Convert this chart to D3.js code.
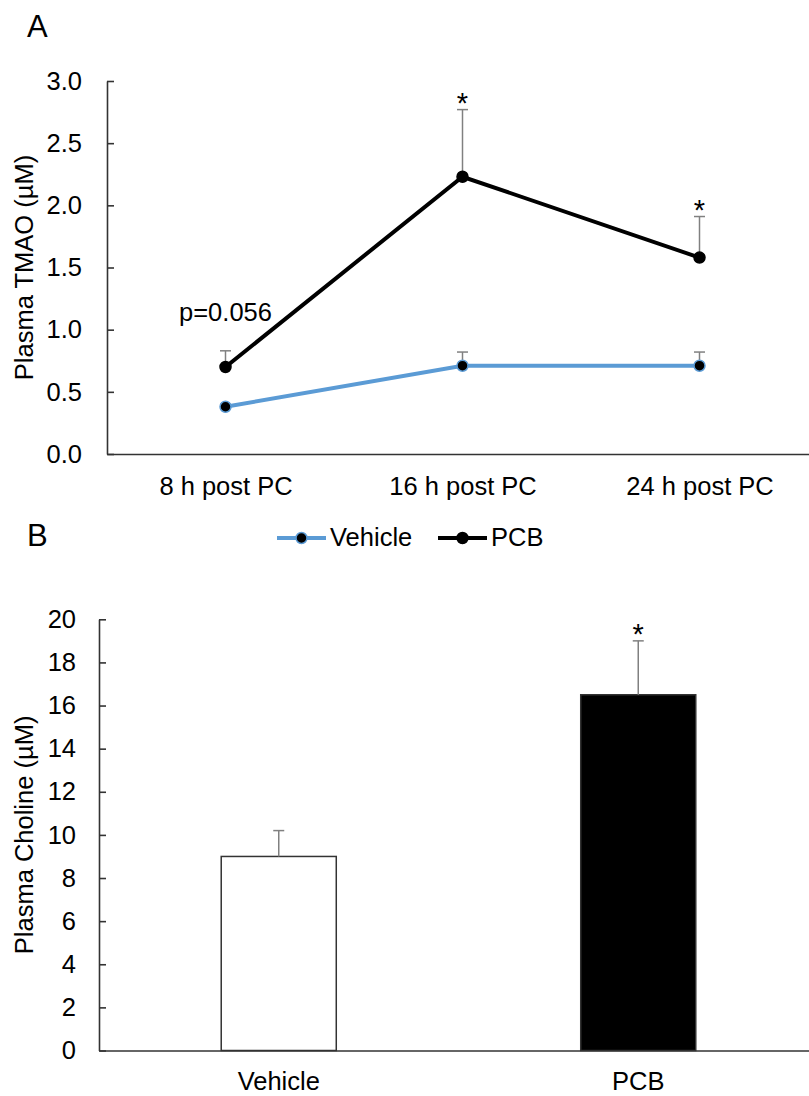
<!DOCTYPE html>
<html>
<head>
<meta charset="utf-8">
<script src="https://cdn.jsdelivr.net/npm/d3@7"></script>
<style>
  body { margin: 0; background: #fff; }
  text { font-family: "Liberation Sans", Arial, sans-serif; fill: #000; }
</style>
</head>
<body>
<svg id="chart" width="809" height="1096"></svg>
<script>
// panel A: plasma TMAO over time
const timepoints = ["8 h post PC", "16 h post PC", "24 h post PC"];
const vehicleTmao = [0.38, 0.71, 0.71];
const vehicleTmaoSem = [0.02, 0.11, 0.11];
const pcbTmao = [0.70, 2.23, 1.58];
const pcbTmaoSem = [0.13, 0.54, 0.33];
const pcbTmaoSig = ["p=0.056", "*", "*"];
const tmaoTicks = [0, 0.5, 1.0, 1.5, 2.0, 2.5, 3.0];

// panel B: plasma choline
const groups = ["Vehicle", "PCB"];
const cholineMean = [9.0, 16.5];
const cholineSem = [1.2, 2.5];
const cholineSig = ["", "*"];
const cholineTicks = [0, 2, 4, 6, 8, 10, 12, 14, 16, 18, 20];

const blue = "#5b9bd5";
const axisColor = "#333";
const errColor = "#808080";
const fontSize = 25.5;

const svg = d3.select("#chart");

function styleAxis(g) {
    g.attr("font-size", fontSize).attr("font-family", null);
    g.select(".domain").attr("stroke", axisColor).attr("stroke-width", 1.6);
    g.selectAll(".tick line").attr("stroke", axisColor).attr("stroke-width", 1.6);
    g.selectAll(".tick text").attr("fill", "#000");
}

function sigLabel(g, x, capY, txt) {
    if (!txt) return;
    const star = txt === "*";
    g.append("text")
        .attr("x", x)
        .attr("y", star ? capY + 3.5 : capY - 30)
        .attr("text-anchor", "middle")
        .attr("font-size", star ? 29 : fontSize)
        .text(txt);
}

// ---------- panel A ----------
const xA = d3.scalePoint().domain(timepoints).range([107, 818]).padding(0.5);
const yA = d3.scaleLinear().domain([0, 3]).range([454, 81]);

svg.append("text").attr("x", 27).attr("y", 37).attr("font-size", 31).text("A");

svg.append("g")
    .attr("transform", "translate(107,0)")
    .call(d3.axisLeft(yA).tickValues(tmaoTicks).tickFormat(d3.format(".1f"))
        .tickSizeInner(-7).tickSizeOuter(0).tickPadding(25))
    .call(styleAxis);

svg.append("g")
    .attr("transform", "translate(0,454)")
    .call(d3.axisBottom(xA).tickSize(0).tickPadding(23))
    .call(styleAxis);

svg.append("text")
    .attr("transform", `translate(33,${(yA(0) + yA(3)) / 2}) rotate(-90)`)
    .attr("text-anchor", "middle")
    .attr("font-size", fontSize)
    .text("Plasma TMAO (µM)");

const seriesA = [
    { name: "Vehicle", mean: vehicleTmao, sem: vehicleTmaoSem, color: blue, sig: ["", "", ""] },
    { name: "PCB", mean: pcbTmao, sem: pcbTmaoSem, color: "#000", sig: pcbTmaoSig }
];

const plotA = svg.append("g");

// error bars (upper only)
seriesA.forEach(s => {
    timepoints.forEach((t, i) => {
        const x = xA(t);
        const top = yA(s.mean[i] + s.sem[i]);
        plotA.append("line").attr("x1", x).attr("x2", x)
            .attr("y1", yA(s.mean[i])).attr("y2", top)
            .attr("stroke", errColor).attr("stroke-width", 1.5);
        plotA.append("line").attr("x1", x - 5.5).attr("x2", x + 5.5)
            .attr("y1", top).attr("y2", top)
            .attr("stroke", errColor).attr("stroke-width", 1.5);
        sigLabel(plotA, x, top, s.sig[i]);
    });
});

const line = d3.line().x((d, i) => xA(timepoints[i])).y(d => yA(d));

seriesA.forEach(s => {
    plotA.append("path")
        .datum(s.mean)
        .attr("fill", "none")
        .attr("stroke", s.color)
        .attr("stroke-width", 4)
        .attr("d", line);
    plotA.selectAll(null)
        .data(s.mean)
        .join("circle")
        .attr("cx", (d, i) => xA(timepoints[i]))
        .attr("cy", d => yA(d))
        .attr("r", 5.5)
        .attr("fill", "#000")
        .attr("stroke", s.color)
        .attr("stroke-width", 1.5);
});

// legend
const legendX = [277, 438];
const legend = svg.append("g");
seriesA.forEach((s, i) => {
    const lx = legendX[i];
    legend.append("line").attr("x1", lx).attr("x2", lx + 49)
        .attr("y1", 538).attr("y2", 538)
        .attr("stroke", s.color).attr("stroke-width", 4);
    legend.append("circle").attr("cx", lx + 24.5).attr("cy", 538).attr("r", 5.5)
        .attr("fill", "#000").attr("stroke", s.color).attr("stroke-width", 1.5);
    legend.append("text").attr("x", lx + 53).attr("y", 546)
        .attr("font-size", fontSize).text(s.name);
});

// ---------- panel B ----------
const xB = d3.scaleBand().domain(groups).range([99, 818]).paddingInner(0.68).paddingOuter(0.34);
const yB = d3.scaleLinear().domain([0, 20]).range([1050.5, 619.3]);

svg.append("text").attr("x", 27).attr("y", 546).attr("font-size", 31).text("B");

const plotB = svg.append("g");

plotB.selectAll("rect")
    .data(cholineMean)
    .join("rect")
    .attr("x", (d, i) => xB(groups[i]))
    .attr("y", d => yB(d))
    .attr("width", xB.bandwidth())
    .attr("height", d => yB(0) - yB(d))
    .attr("fill", (d, i) => i === 0 ? "#fff" : "#000")
    .attr("stroke", "#333")
    .attr("stroke-width", 1.5);

groups.forEach((g, i) => {
    const x = xB(g) + xB.bandwidth() / 2;
    const top = yB(cholineMean[i] + cholineSem[i]);
    plotB.append("line").attr("x1", x).attr("x2", x)
        .attr("y1", yB(cholineMean[i])).attr("y2", top)
        .attr("stroke", errColor).attr("stroke-width", 1.5);
    plotB.append("line").attr("x1", x - 5.5).attr("x2", x + 5.5)
        .attr("y1", top).attr("y2", top)
        .attr("stroke", errColor).attr("stroke-width", 1.5);
    sigLabel(plotB, x, top, cholineSig[i]);
});

svg.append("g")
    .attr("transform", "translate(99,0)")
    .call(d3.axisLeft(yB).tickValues(cholineTicks)
        .tickSizeInner(-7).tickSizeOuter(0).tickPadding(23))
    .call(styleAxis);

svg.append("g")
    .attr("transform", "translate(0,1050.5)")
    .call(d3.axisBottom(xB).tickSize(0).tickPadding(21))
    .call(styleAxis);

svg.append("text")
    .attr("transform", `translate(33,${(yB(0) + yB(20)) / 2}) rotate(-90)`)
    .attr("text-anchor", "middle")
    .attr("font-size", fontSize)
    .text("Plasma Choline (µM)");
</script>
</body>
</html>
